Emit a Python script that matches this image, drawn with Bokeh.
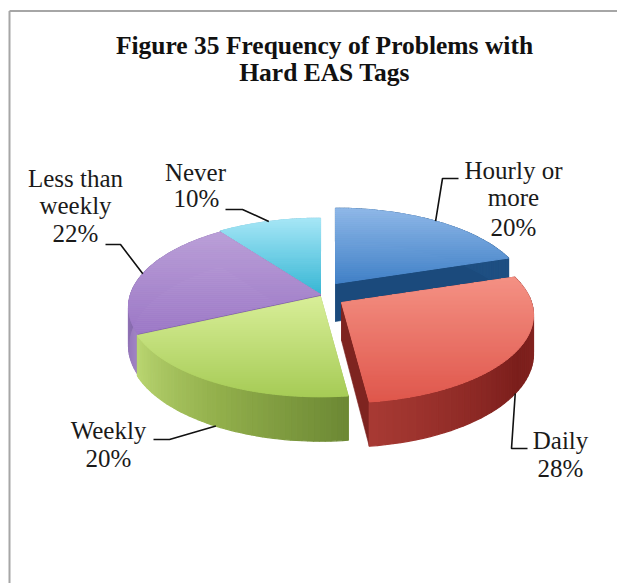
import numpy as np
from bokeh.plotting import figure
from bokeh.models import Range1d
from bokeh.core.properties import value
from bokeh.embed import file_html
from bokeh.resources import INLINE

# ---- data ----
categories = ["Hourly or more", "Daily", "Weekly", "Less than weekly", "Never"]
percent = [20, 28, 20, 22, 10]
title_lines = ["Figure 35 Frequency of Problems with", "Hard EAS Tags"]
label_lines = [["Hourly or", "more", "20%"], ["Daily", "28%"], ["Weekly", "20%"],
               ["Less than", "weekly", "22%"], ["Never", "10%"]]

# ---- style / layout (page pixels) ----
W, H = 617, 583
CX, CY = 320.0, 295.0
RX, RY, K, DEPTH = 190.0, 86.0, 0.143, 38.0
explode = [(15, -12), (21, 7), (0, 1), (0, -1), (0, -2)]
top_grad = [("#8FB8E8", "#3F7FC6"), ("#F49184", "#DF574C"), ("#D8EE98", "#A6CB55"),
            ("#BBA0D8", "#9C78C6"), ("#A6E6F6", "#36B6D4")]
cut_col = [("#2C5E94", "#1B4A7C"), ("#7A1E1B", "#7E2420"), ("#8FAE45", "#8FAE45"),
           ("#8A6CB0", "#8A6CB0"), ("#8FA8B0", "#7FA4B0")]
wall_stops = [["#1E4F82", "#1E4F82"], ["#8C2B27", "#7B1E1B", "#A83A34"],
              ["#6C8834", "#93B04C", "#BAD672"], ["#A183C4", "#7E62A6", "#8E70B2"],
              ["#8FC8DA", "#8FC8DA"]]
label_pos = [[(513, 170), (513, 197), (513, 227)], [(560, 440), (560, 468)],
             [(108, 430), (108, 458)], [(75, 178), (75, 205), (75, 233)],
             [(195, 172), (196, 198)]]
leader_via = [[(442, 178), (458, 178)], [(511, 448), (527, 448)],
              [(169, 439), (153, 439)], [(120, 244), (105, 244)], [(242, 209), (225, 209)]]
leader_on_wall = [False, True, True, False, False]
FONT = "Liberation Serif"


def hex2rgb(h):
    return np.array([int(h[i:i + 2], 16) for i in (1, 3, 5)], float)


def mix(a, b, t):
    c = hex2rgb(a) * (1 - t) + hex2rgb(b) * t
    return "#%02x%02x%02x" % tuple(int(round(v)) for v in c)


def ramp(stops, t):
    t = min(max(t, 0), 1) * (len(stops) - 1)
    i = min(int(t), len(stops) - 2)
    return mix(stops[i], stops[i + 1], t - i)


def project(a, idx, r=1.0, down=False):
    """a: clockwise angle from 12 o'clock in radians."""
    u, v = r * np.sin(a), r * np.cos(a)
    s = 1 / (1 + K * v)
    x = CX + explode[idx][0] + RX * u * s
    y = CY + explode[idx][1] - RY * v * s + (DEPTH * s if down else 0)
    return x, y


def clip_band(poly, y0, y1):
    def clip(pts, keep, cross):
        out = []
        for i in range(len(pts)):
            a, b = pts[i], pts[(i + 1) % len(pts)]
            if keep(a):
                out.append(a)
            if keep(a) != keep(b):
                t = (cross - a[1]) / (b[1] - a[1])
                out.append((a[0] + t * (b[0] - a[0]), cross))
        return out
    pts = clip(poly, lambda p: p[1] >= y0, y0)
    if pts:
        pts = clip(pts, lambda p: p[1] <= y1, y1)
    return pts


p = figure(width=W, height=H, x_range=Range1d(0, W), y_range=Range1d(H, 0),
           x_axis_type=None, y_axis_type=None, toolbar_location=None,
           output_backend="svg", min_border=0, outline_line_color=None,
           background_fill_color="white", border_fill_color="white")
p.grid.visible = False

# frame of the original text box (top and left sides visible)
p.line([9, 9], [10.5, H], line_color="#A6A6A6", line_width=2)
p.line([9, W], [10.5, 10.5], line_color="#A6A6A6", line_width=2)

cum = np.concatenate([[0], np.cumsum(percent)]) / sum(percent) * 2 * np.pi


def draw_slice(i):
    a0, a1 = cum[i], cum[i + 1]
    xs, ys, cols = [], [], []
    ax, ay = project(0, i, 0)
    bx, by = project(0, i, 0, True)
    # cut faces
    for ang, col in ((a0, cut_col[i][0]), (a1, cut_col[i][1])):
        ex, ey = project(ang, i)
        fx, fy = project(ang, i, 1, True)
        xs.append([ax, ex, fx, bx])
        ys.append([ay, ey, fy, by])
        cols.append(col)
    p.patches(xs, ys, fill_color=cols, line_color=cols, line_width=0.6)
    # outer wall, a strip per small step, shaded along the rim
    xs, ys, cols = [], [], []
    n = 48
    angs = np.linspace(a0, a1, n + 1)
    for j in range(n):
        x0, y0 = project(angs[j], i)
        x1, y1 = project(angs[j + 1], i)
        x2, y2 = project(angs[j + 1], i, 1, True)
        x3, y3 = project(angs[j], i, 1, True)
        xs.append([x0, x1, x2, x3])
        ys.append([y0, y1, y2, y3])
        cols.append(ramp(wall_stops[i], (j + .5) / n))
    p.patches(xs, ys, fill_color=cols, line_color=cols, line_width=1.2)
    # top face, shaded vertically
    ta = np.linspace(a0, a1, 80)
    poly = [(ax, ay)] + [project(t, i) for t in ta]
    ymin = min(q[1] for q in poly)
    ymax = max(q[1] for q in poly)
    xs, ys, cols = [], [], []
    edges = np.arange(ymin, ymax + 2, 2.0)
    for y0, y1 in zip(edges[:-1], edges[1:]):
        pts = clip_band(poly, y0, y1)
        if len(pts) < 3:
            continue
        xs.append([q[0] for q in pts])
        ys.append([q[1] for q in pts])
        cols.append(mix(*top_grad[i], (y0 - ymin) / max(ymax - ymin, 1)))
    p.patches(xs, ys, fill_color=cols, line_color=cols, line_width=1.0)


for i in (4, 0, 3, 2, 1):
    draw_slice(i)

# leader lines start from the middle of each slice's rim
for i in range(len(percent)):
    mid = (cum[i] + cum[i + 1]) / 2
    sx, sy = project(mid, i, 1, leader_on_wall[i])
    p.line([sx] + [q[0] for q in leader_via[i]], [sy] + [q[1] for q in leader_via[i]],
           line_color="#111111", line_width=1.6)

# labels
for lines, pos in zip(label_lines, label_pos):
    p.text([q[0] for q in pos], [q[1] for q in pos], text=lines,
           text_font=value(FONT), text_font_size="25px", text_color="#1a1a1a",
           text_align="center", text_baseline="middle")
p.text([324, 324], [45, 72], text=title_lines, text_font=value(FONT),
       text_font_style="bold", text_font_size="25.5px", text_color="#111111",
       text_align="center", text_baseline="middle")

open("out.html", "w").write(file_html(p, INLINE))
